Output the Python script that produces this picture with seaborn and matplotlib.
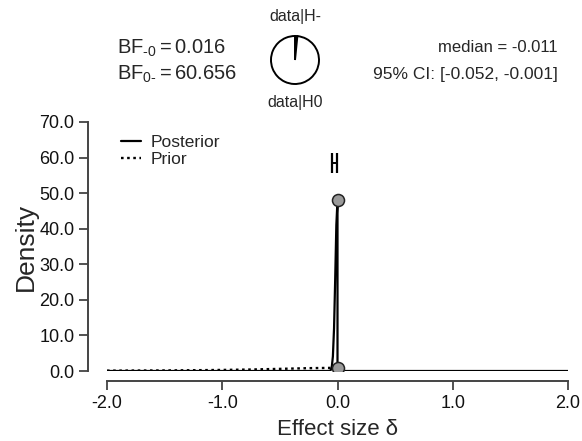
import numpy as np
import pandas as pd
import matplotlib
matplotlib.use("Agg")
import matplotlib.pyplot as plt
import seaborn as sns

# ---- data ----
post_x = [-2.0, -0.10, -0.08, -0.07, -0.06, -0.05, -0.04, -0.03, -0.02, -0.01, 0.0, 0.0, 2.0]
post_y = [0.0, 0.0, 0.02, 0.05, 0.2, 1.0, 4.1, 12.0, 25.9, 41.1, 48.0, 0.0, 0.0]
prior_x = [-2.0, -1.75, -1.5, -1.25, -1.0, -0.75, -0.5, -0.25, 0.0]
prior_y = [0.10, 0.13, 0.16, 0.22, 0.30, 0.42, 0.60, 0.80, 0.90]
point_x = [0.0, 0.0]
point_y = [48.0, 0.90]
ci_low, ci_high, ci_height = -0.052, -0.001, 58.5
median = -0.011
bf_m0 = 0.016
bf_0m = 60.656
pie_values = [bf_m0, 1.0]
pie_labels = ["data|H-", "data|H0"]
xticks = [-2.0, -1.0, 0.0, 1.0, 2.0]
yticks = [0, 10, 20, 30, 40, 50, 60, 70]

sns.set_theme(style="ticks")
plt.rcParams["font.family"] = ["Liberation Sans", "DejaVu Sans"]
plt.rcParams["axes.unicode_minus"] = False
plt.rcParams["mathtext.fontset"] = "custom"
plt.rcParams["mathtext.rm"] = "Liberation Sans"
plt.rcParams["mathtext.it"] = "Liberation Sans:italic"

W, H = 582, 441
fig = plt.figure(figsize=(W/100, H/100), dpi=100)
ax = fig.add_axes([107/W, (H-371)/H, (568-107)/W, (371-122)/H])

post_df = pd.DataFrame({"x": post_x, "y": post_y})
prior_df = pd.DataFrame({"x": prior_x, "y": prior_y})
sns.lineplot(data=prior_df, x="x", y="y", ax=ax, color="black", lw=1.7,
             linestyle=(0, (1.1, 1.5)), estimator=None, sort=False, label="Prior")
sns.lineplot(data=post_df, x="x", y="y", ax=ax, color="black", lw=1.6,
             estimator=None, sort=False, label="Posterior")
sns.scatterplot(x=point_x, y=point_y, ax=ax, s=75, color="#9a9a9a",
                edgecolor="#222222", linewidth=1.1, zorder=5)

# credible interval "H"
ax.errorbar([median], [ci_height], xerr=[[median - ci_low], [ci_high - median]],
            fmt="none", ecolor="black", elinewidth=1.4, capsize=7.5, capthick=1.6)

ax.set_xlim(-2, 2)
ax.set_ylim(0, 70)
ax.set_xticks(xticks)
ax.set_xticklabels([f"{v:.1f}" for v in xticks])
ax.set_yticks(yticks)
ax.set_yticklabels([f"{v:.1f}" for v in yticks])
ax.tick_params(labelsize=13, length=6.5, width=1.3, color="#444444",
               labelcolor="#111111", pad=3.5)
ax.spines["top"].set_visible(False)
ax.spines["right"].set_visible(False)
ax.spines["left"].set_position(("outward", 13.5))
ax.spines["bottom"].set_position(("outward", 7))
for s in ("left", "bottom"):
    ax.spines[s].set_color("#444444")
    ax.spines[s].set_linewidth(1.4)
ax.spines["left"].set_bounds(0, 70)
ax.spines["bottom"].set_bounds(-2, 2)
ax.set_xlabel("Effect size δ", fontsize=16, labelpad=5)
ax.set_ylabel("Density", fontsize=19, labelpad=1)

h, l = ax.get_legend_handles_labels()
if ax.get_legend() is not None:
    ax.get_legend().remove()
order = [l.index("Posterior"), l.index("Prior")]
fig.legend([h[i] for i in order], [l[i] for i in order], loc="upper left",
           bbox_to_anchor=(121/W, 1 - 135/H), frameon=False, fontsize=12.5,
           handlelength=1.15, handletextpad=0.55, labelspacing=0.12,
           borderpad=0, borderaxespad=0)

# header texts
fig.text(117/W, 1 - 48/H, r"$\mathrm{BF}_{\text{-0}} = 0.016$", fontsize=14.5,
         ha="left", va="center")
fig.text(117/W, 1 - 74/H, r"$\mathrm{BF}_{\text{0-}} = 60.656$", fontsize=14.5,
         ha="left", va="center")
fig.text(558/W, 1 - 47/H, f"median = {median:.3f}", fontsize=12, ha="right", va="center")
fig.text(558/W, 1 - 74/H, f"95% CI: [{ci_low:.3f}, {ci_high:.3f}]", fontsize=12.5,
         ha="right", va="center")

pax = fig.add_axes([265/W, (H-90)/H, 60/W, 60/H])
pax.pie(pie_values, startangle=90, counterclock=False, colors=["black", "white"],
        wedgeprops=dict(edgecolor="black", linewidth=1.4))
pax.set_aspect("equal")
fig.text(295/W, 1 - 17/H, pie_labels[0], fontsize=11.5, ha="center", va="center")
fig.text(295/W, 1 - 102/H, pie_labels[1], fontsize=11.5, ha="center", va="center")

fig.savefig("out.png", dpi=100)
